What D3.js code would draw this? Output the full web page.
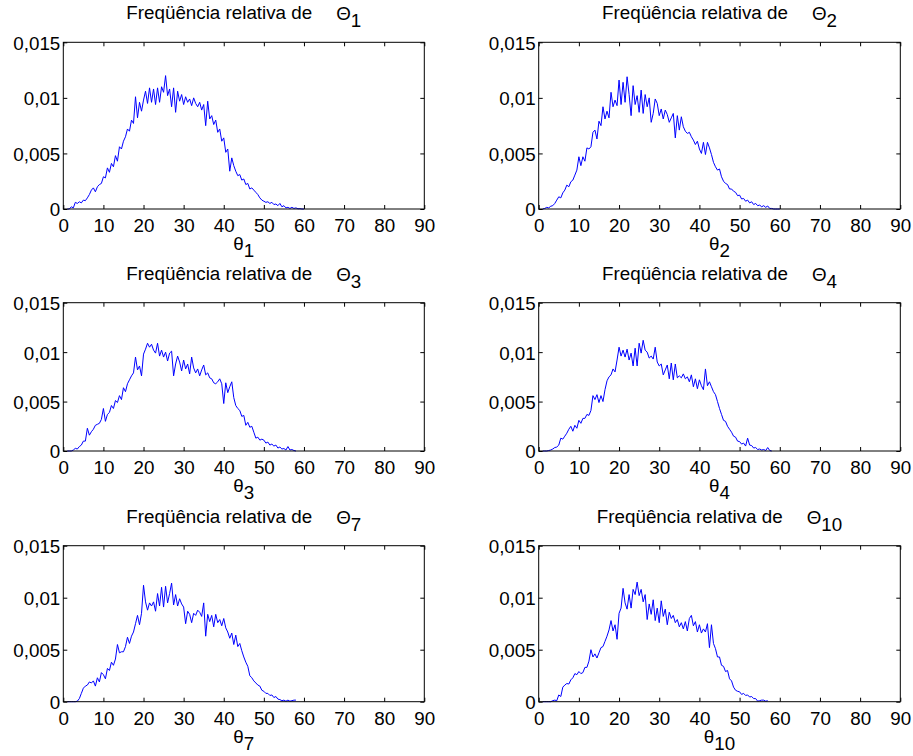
<!DOCTYPE html>
<html>
<head>
<meta charset="utf-8">
<script src="https://cdn.jsdelivr.net/npm/d3@7"></script>
<style>
  html, body { margin: 0; padding: 0; background: #ffffff; }
  svg { display: block; }
</style>
</head>
<body>
<svg id="chart" width="913" height="756"></svg>
<script>
// ---------- DATA (relative frequency, in units of 10^-3) ----------
// bin centres in degrees (0.5° bins starting at 1°)
const binStart = 1, binStep = 0.5;

const theta1 = [0,0,0.2,0.1,0.6,0.5,0.65,0.55,0.8,0.75,1.0,1.3,1.7,1.9,1.55,2.0,2.2,2.3,2.9,2.8,3.7,3.3,4.1,3.8,4.8,4.3,5.6,5.4,6.1,6.5,7.2,7.0,8.0,7.7,10.1,8.2,9.6,8.8,9.8,10.6,9.5,10.9,9.6,10.8,9.4,10.9,9.6,11.0,10.5,12.0,10.2,10.8,9.2,10.9,8.7,10.6,9.7,10.3,9.4,10.1,9.6,9.9,9.3,10.0,9.5,9.2,9.6,8.9,9.4,7.5,9.7,8.1,8.4,7.6,8.0,6.9,7.2,6.1,6.4,5.1,5.4,3.4,4.6,3.9,3.4,3.0,3.1,2.6,2.7,2.2,2.3,1.8,1.9,1.7,1.5,1.3,1.0,0.8,0.7,0.6,0.65,0.5,0.6,0.4,0.45,0.3,0.5,0.2,0.3,0.1,0.15,0.05,0.15,0.05,0.1,0.02,0.03,0,0];

const theta2 = [0,0.05,0.15,0.1,0.25,0.3,0.5,0.8,1.1,1.0,1.45,1.7,2.15,2.0,2.45,2.6,3.05,3.5,4.7,3.9,4.7,4.3,5.5,5.4,5.6,6.9,7.1,6.3,7.9,7.5,9.2,8.1,8.8,8.2,10.5,9.2,9.8,9.3,11.6,9.4,11.4,9.6,11.9,10.3,8.4,11.1,9.4,10.2,8.7,10.7,8.6,10.3,9.2,10.0,7.8,8.6,9.9,9.5,8.4,9.0,8.1,8.9,8.5,7.8,8.2,8.6,6.4,8.4,7.1,8.3,7.4,7.0,6.8,6.9,6.5,6.2,5.8,6.1,5.4,5.0,6.0,4.9,6.0,5.5,4.9,4.2,3.8,3.5,3.6,2.9,2.5,2.3,2.2,1.8,1.8,1.6,1.5,1.2,1.25,0.9,0.95,0.7,0.8,0.55,0.65,0.4,0.5,0.3,0.35,0.2,0.3,0.15,0.27,0.05,0.05,0,0,0,0];

const theta3 = [0,0,0,0.1,0.27,0.2,0.45,0.6,1.0,1.0,2.3,1.6,1.95,2.2,2.6,2.7,2.8,3.2,4.3,3.0,3.7,3.9,4.6,4.3,5.1,4.9,5.6,5.2,6.4,6.0,6.8,7.2,7.6,7.9,9.5,8.2,8.6,7.6,9.8,10.3,10.9,10.5,10.8,10.2,9.9,10.9,9.6,10.2,9.5,10.0,9.1,9.9,10.1,7.6,8.8,9.6,9.0,8.1,9.2,8.3,8.8,7.8,9.5,8.4,7.9,8.3,7.6,8.2,8.7,7.7,7.9,7.4,7.3,6.9,6.8,7.0,7.3,6.8,4.8,6.9,5.9,6.5,7.0,5.4,4.6,4.3,4.1,3.5,3.6,2.6,2.9,2.4,2.5,1.9,1.3,1.4,1.1,1.2,1.1,0.8,0.9,0.6,0.7,0.5,0.6,0.3,0.4,0.2,0.25,0.1,0.45,0.1,0.15,0.05,0];

const theta4 = [0,0,0,0.05,0.1,0.2,0.35,0.4,0.6,1.3,1.2,1.5,1.8,2.2,2.5,2.0,2.6,2.3,3.1,2.8,3.3,3.3,3.7,3.6,4.1,5.6,5.2,5.7,4.9,5.6,5.0,6.2,7.1,7.5,7.7,8.3,8.0,9.2,10.5,9.6,10.2,9.5,10.3,9.2,9.9,8.6,10.4,8.6,10.9,9.9,11.2,10.2,10.0,9.4,9.6,9.3,10.5,9.0,8.6,8.8,7.7,8.2,8.7,7.3,8.9,7.2,8.8,7.4,7.6,7.4,7.8,7.3,7.5,7.0,7.7,6.5,7.3,6.3,7.2,6.6,6.2,8.3,6.6,7.0,6.5,6.0,5.7,5.0,4.3,3.7,3.1,3.0,2.5,2.2,1.9,1.5,1.4,1.0,0.95,0.7,0.8,0.5,1.3,0.6,0.55,0.3,0.35,0.15,0.2,0.1,0.15,0.05,0.35,0.05,0];

const theta7 = [0,0,0,0,0,0.05,0.3,0.8,1.3,1.5,1.6,1.9,1.8,2.0,1.5,2.3,1.9,2.8,2.6,2.2,3.2,3.0,3.8,3.5,4.1,5.5,4.7,4.8,4.8,5.3,6.2,5.6,6.3,6.7,7.5,8.3,7.4,8.5,11.2,9.6,8.8,9.5,9.2,9.6,8.7,10.4,9.2,11.0,9.1,11.1,9.5,10.4,11.4,9.3,10.3,9.2,9.9,9.4,9.1,7.5,8.7,8.4,7.6,8.5,8.3,8.8,8.6,8.2,9.5,6.3,8.4,7.7,8.3,7.2,8.4,7.6,7.9,7.3,8.0,7.1,6.7,6.1,6.6,5.5,6.4,5.3,5.6,4.9,4.3,3.8,3.4,2.5,2.3,2.0,1.8,1.6,1.5,1.1,1.0,0.8,0.8,0.6,0.65,0.4,0.5,0.25,0.2,0.1,0.15,0.05,0.15,0.05,0.1,0.15,0.15];

const theta10 = [0,0,0,0,0,0.1,0.15,0.1,0.65,0.5,1.4,1.6,1.75,1.7,2.1,2.3,2.7,2.6,2.9,2.7,2.8,3.3,3.3,3.9,5.0,4.3,4.6,4.2,4.7,5.2,5.3,5.8,6.3,6.9,7.8,6.8,7.4,6.0,8.5,9.0,10.9,9.5,8.9,10.3,9.0,10.8,10.3,11.5,10.2,10.8,9.6,10.3,7.9,9.4,8.4,9.8,7.8,9.0,7.6,9.7,8.2,8.9,7.4,8.6,8.0,8.3,7.6,7.9,7.2,7.6,7.0,7.7,6.8,8.0,8.3,7.3,7.7,6.7,7.4,6.6,7.0,6.7,7.5,5.2,7.4,5.6,5.1,4.3,4.3,3.5,3.4,2.9,3.0,2.2,2.0,1.4,1.1,1.0,0.95,0.7,0.8,0.6,0.65,0.45,0.5,0.3,0.3,0.05,0.1,0.15,0.15,0.05,0.1];

const seriesSubscripts = ["1", "2", "3", "4", "7", "10"];
const seriesValues = [theta1, theta2, theta3, theta4, theta7, theta10];

const xTickValues = [0, 10, 20, 30, 40, 50, 60, 70, 80, 90];
const xTickLabels = ["0", "10", "20", "30", "40", "50", "60", "70", "80", "90"];
const yTickValues = [0, 5, 10, 15];             // in 10^-3
const yTickLabels = ["0", "0,005", "0,01", "0,015"];
const titleText = "Freqüência relativa de";

// ---------- LAYOUT ----------
const cols = [[63.3, 424.3], [538.7, 900.3]];
const rows = [[42.3, 209], [302.7, 451], [545.7, 701.7]];
const FONT = "'Liberation Sans', Arial, Helvetica, sans-serif";
const FS = 18.8;

const svg = d3.select("#chart");

seriesValues.forEach((vals, i) => {
  const col = cols[i % 2], row = rows[Math.floor(i / 2)];
  const x = d3.scaleLinear().domain([0, 90]).range(col);
  const y = d3.scaleLinear().domain([0, 15]).range([row[1], row[0]]);
  const g = svg.append("g");

  // data line
  const pts = vals.map((v, k) => [binStart + k * binStep, v]);
  g.append("path")
    .datum(pts)
    .attr("fill", "none")
    .attr("stroke", "#0000ff")
    .attr("stroke-width", 1)
    .attr("stroke-linejoin", "round")
    .attr("d", d3.line().x(d => x(d[0])).y(d => y(d[1])));

  // axes (ticks inward, mirrored)
  const fmtX = d => xTickLabels[xTickValues.indexOf(d)];
  const fmtY = d => yTickLabels[yTickValues.indexOf(d)];
  const styleAxis = sel => {
    sel.select(".domain").remove();
    sel.selectAll("line").attr("stroke", "#000").attr("stroke-width", 1);
    sel.attr("font-family", FONT).attr("font-size", FS);
    sel.selectAll("text").attr("fill", "#000");
  };
  g.append("g").attr("transform", `translate(0,${row[1]})`)
    .call(d3.axisBottom(x).tickValues(xTickValues).tickFormat(fmtX).tickSizeInner(-4).tickSizeOuter(0).tickPadding(9.5))
    .call(styleAxis);
  g.append("g").attr("transform", `translate(0,${row[0]})`)
    .call(d3.axisTop(x).tickValues(xTickValues).tickFormat("").tickSizeInner(-4).tickSizeOuter(0))
    .call(styleAxis);
  g.append("g").attr("transform", `translate(${col[0]},0)`)
    .call(d3.axisLeft(y).tickValues(yTickValues).tickFormat(fmtY).tickSizeInner(-4).tickSizeOuter(0).tickPadding(3))
    .call(styleAxis)
    .selectAll("text").attr("dy", "0.37em");
  g.append("g").attr("transform", `translate(${col[1]},0)`)
    .call(d3.axisRight(y).tickValues(yTickValues).tickFormat("").tickSizeInner(-4).tickSizeOuter(0))
    .call(styleAxis);

  // box
  g.append("rect")
    .attr("x", col[0]).attr("y", row[0])
    .attr("width", col[1] - col[0]).attr("height", row[1] - row[0])
    .attr("fill", "none").attr("stroke", "#000").attr("stroke-width", 1);

  const cx = (col[0] + col[1]) / 2;

  // title
  const t = g.append("text")
    .attr("x", cx).attr("y", row[0] - 23)
    .attr("text-anchor", "middle")
    .attr("font-family", FONT).attr("font-size", FS).attr("fill", "#000");
  t.append("tspan").text(titleText);
  t.append("tspan").attr("dx", 24).attr("dy", 1).attr("font-weight", 300).text("Θ");
  t.append("tspan").attr("dy", 7).text(seriesSubscripts[i]);

  // x label
  const xl = g.append("text")
    .attr("x", cx).attr("y", row[1] + 41)
    .attr("text-anchor", "middle")
    .attr("font-family", FONT).attr("font-size", FS).attr("fill", "#000");
  xl.append("tspan").text("θ");
  xl.append("tspan").attr("dy", 7).text(seriesSubscripts[i]);
});
</script>
</body>
</html>
